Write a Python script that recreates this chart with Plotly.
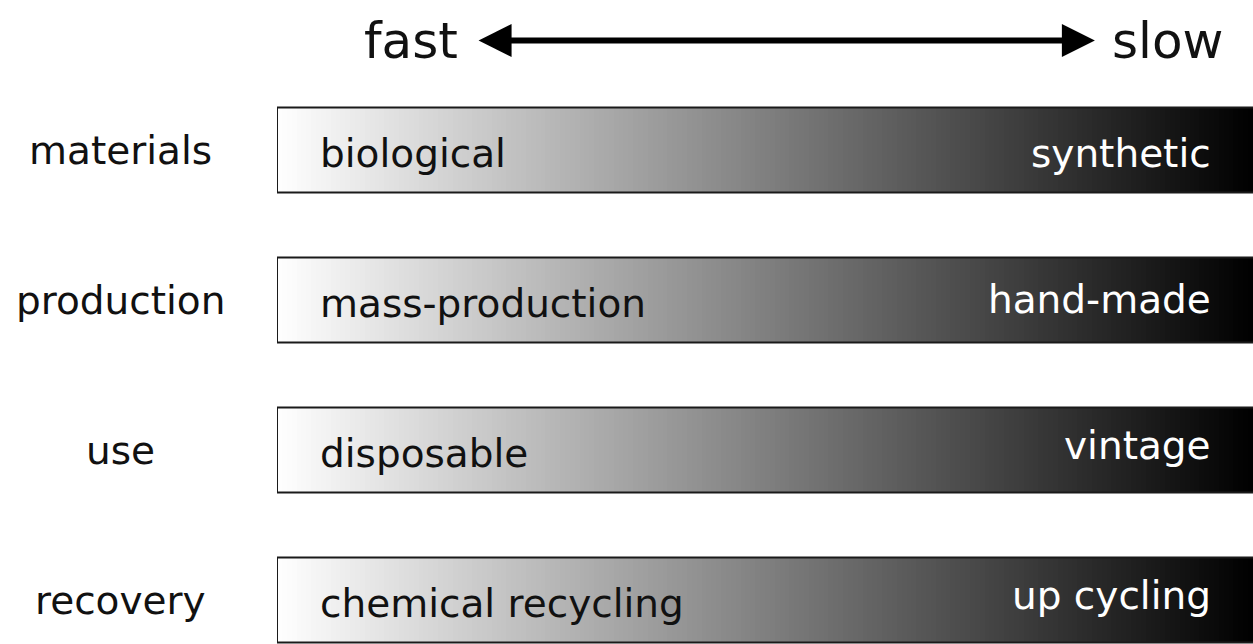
import numpy as np
import plotly.graph_objects as go

categories = ["materials", "production", "use", "recovery"]
fast_labels = ["biological", "mass-production", "disposable", "chemical recycling"]
slow_labels = ["synthetic", "hand-made", "vintage", "up cycling"]
scale_labels = ["fast", "slow"]

# styling: vertical pixel nudges of the right-hand labels
slow_label_nudge = [-3, 1, 5, 5]

FONT = "DejaVu Sans"
n_steps = 200
x_edges = np.linspace(0, 1, n_steps + 1)
x_mid = (x_edges[:-1] + x_edges[1:]) / 2
half_h = 0.283

fig = go.Figure()
for i, cat in enumerate(categories):
    fig.add_trace(go.Heatmap(
        x=x_edges, y=[i - half_h, i + half_h], z=[x_mid],
        colorscale=[[0, "#ffffff"], [1, "#000000"]], zmin=0, zmax=1,
        showscale=False, hoverinfo="skip"))
    fig.add_shape(type="rect", xref="x", yref="y", x0=0, x1=1.01,
                  y0=i - half_h, y1=i + half_h,
                  line=dict(color="#1a1a1a", width=2), layer="above")
    fig.add_annotation(x=0.042, y=i, text=fast_labels[i], showarrow=False,
                       xanchor="left", yshift=-3,
                       font=dict(family=FONT, size=39, color="#111111"))
    fig.add_annotation(x=0.959, y=i, text=slow_labels[i], showarrow=False,
                       xanchor="right", yshift=slow_label_nudge[i],
                       font=dict(family=FONT, size=39, color="white"))
    fig.add_annotation(xref="paper", x=120 / 1253, y=i, text=cat, showarrow=False,
                       xanchor="center",
                       font=dict(family=FONT, size=39, color="#111111"))

# top scale
fig.add_annotation(x=0.137, y=-0.73, text=scale_labels[0], showarrow=False,
                   xanchor="center", xref="x", yref="y",
                   font=dict(family=FONT, size=50, color="#111111"))
fig.add_annotation(x=0.912, y=-0.73, text=scale_labels[1], showarrow=False,
                   xanchor="center", xref="x", yref="y",
                   font=dict(family=FONT, size=50, color="#111111"))
fig.add_annotation(x=0.838, y=-0.73, ax=0.205, ay=-0.73, axref="x", ayref="y",
                   xref="x", yref="y", text="", showarrow=True,
                   arrowhead=2, arrowside="end+start", arrowsize=1.1,
                   arrowwidth=6, arrowcolor="black")

fig.update_layout(
    width=1253, height=644,
    margin=dict(l=0, r=0, t=0, b=0),
    paper_bgcolor="white", plot_bgcolor="white",
    xaxis=dict(domain=[277 / 1253, 1], range=[0, 1], visible=False),
    yaxis=dict(range=[3.293, -1], visible=False),
    showlegend=False,
)
fig.write_html("out.html", config={"displayModeBar": False},
               post_script="document.body.style.margin='0';document.body.style.overflow='hidden';")
